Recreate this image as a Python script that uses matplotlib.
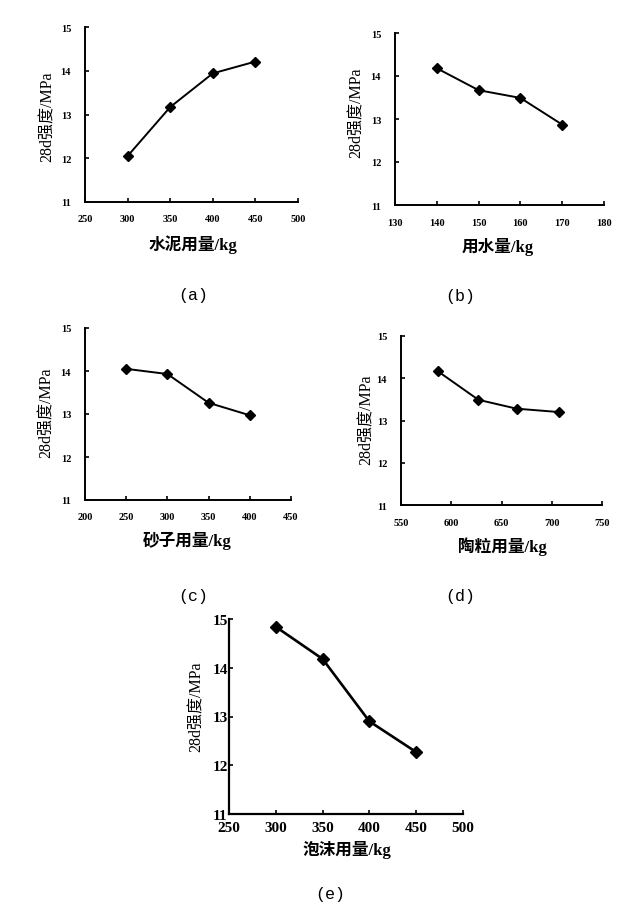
import matplotlib
matplotlib.use("Agg")
import matplotlib.pyplot as plt

plt.rcParams['font.family'] = ['Liberation Serif', 'Noto Sans CJK SC', 'DejaVu Sans']

W, H = 622, 920

# Data
cement_x = [300, 350, 400, 450]
cement_y = [12.05, 13.17, 13.94, 14.21]
water_x = [140, 150, 160, 170]
water_y = [14.18, 13.67, 13.49, 12.87]
sand_x = [250, 300, 350, 400]
sand_y = [14.05, 13.93, 13.26, 12.97]
ceram_x = [587, 627, 665, 707]
ceram_y = [14.16, 13.49, 13.28, 13.20]
foam_x = [300, 350, 400, 450]
foam_y = [14.84, 14.18, 12.90, 12.27]

xticks_a = [250, 300, 350, 400, 450, 500]
xticks_b = [130, 140, 150, 160, 170, 180]
xticks_c = [200, 250, 300, 350, 400, 450]
xticks_d = [550, 600, 650, 700, 750]
xticks_e = [250, 300, 350, 400, 450, 500]
yticks = [11, 12, 13, 14, 15]

ylabel = "28d强度/MPa"
xlabels = ["水泥用量/kg", "用水量/kg", "砂子用量/kg", "陶粒用量/kg", "泡沫用量/kg"]
letters = ["(a)", "(b)", "(c)", "(d)", "(e)"]

fig = plt.figure(figsize=(W / 100, H / 100), dpi=100)


def px_axes(x0, y0, x1, y1):
    return fig.add_axes([x0 / W, 1 - y1 / H, (x1 - x0) / W, (y1 - y0) / H])


def ftext(x, y, s, **kw):
    fig.text(x / W, 1 - y / H, s, ha='center', va='center', **kw)


panels = [
    dict(box=(85, 28, 298, 203), x=cement_x, y=cement_y, xt=xticks_a,
         tfs=7.5, ylab=(48, 117), xlab=(193, 245), let=(193, 296), big=False),
    dict(box=(395, 34, 604, 206), x=water_x, y=water_y, xt=xticks_b,
         tfs=7.5, ylab=(357, 113), xlab=(498, 247), let=(460, 297), big=False),
    dict(box=(85, 329, 291, 501), x=sand_x, y=sand_y, xt=xticks_c,
         tfs=7.5, ylab=(47, 413), xlab=(187, 541), let=(193, 597), big=False),
    dict(box=(401, 337, 602, 506), x=ceram_x, y=ceram_y, xt=xticks_d,
         tfs=7.5, ylab=(367, 420), xlab=(502, 547), let=(460, 597), big=False),
    dict(box=(229, 620, 463, 815), x=foam_x, y=foam_y, xt=xticks_e,
         tfs=11, ylab=(197, 707), xlab=(347, 850), let=(330, 895), big=True),
]

for i, p in enumerate(panels):
    ax = px_axes(*p['box'])
    if p['big']:
        lw, ms = 1.9, 6
    else:
        lw, ms = 1.4, 5
    ax.plot(p['x'], p['y'], color='black', lw=lw, marker='D', ms=ms,
            markerfacecolor='black', markeredgecolor='black')
    ax.set_xlim(p['xt'][0], p['xt'][-1])
    ax.set_ylim(11, 15)
    ax.set_xticks(p['xt'])
    ax.set_yticks(yticks)
    for s in ['top', 'right']:
        ax.spines[s].set_visible(False)
    for s in ['left', 'bottom']:
        ax.spines[s].set_linewidth(1.6 if p['big'] else 1.4)
    if p['big']:
        ax.tick_params(direction='in', length=3, width=1.2, labelsize=p['tfs'],
                       pad=5)
        ax.tick_params(axis='y', pad=1)
    else:
        ax.tick_params(direction='in', length=3, width=1.2, labelsize=p['tfs'],
                       pad=9)
        ax.tick_params(axis='y', pad=10)
    for lab in ax.get_xticklabels() + ax.get_yticklabels():
        lab.set_fontweight('bold')
    ftext(*p['ylab'], ylabel, rotation=90, fontsize=11.5)
    ftext(*p['xlab'], xlabels[i], fontsize=12, fontweight='bold')
    ftext(*p['let'], letters[i], fontsize=12, family='Liberation Mono')

fig.savefig("out.png", dpi=100, facecolor='white')
